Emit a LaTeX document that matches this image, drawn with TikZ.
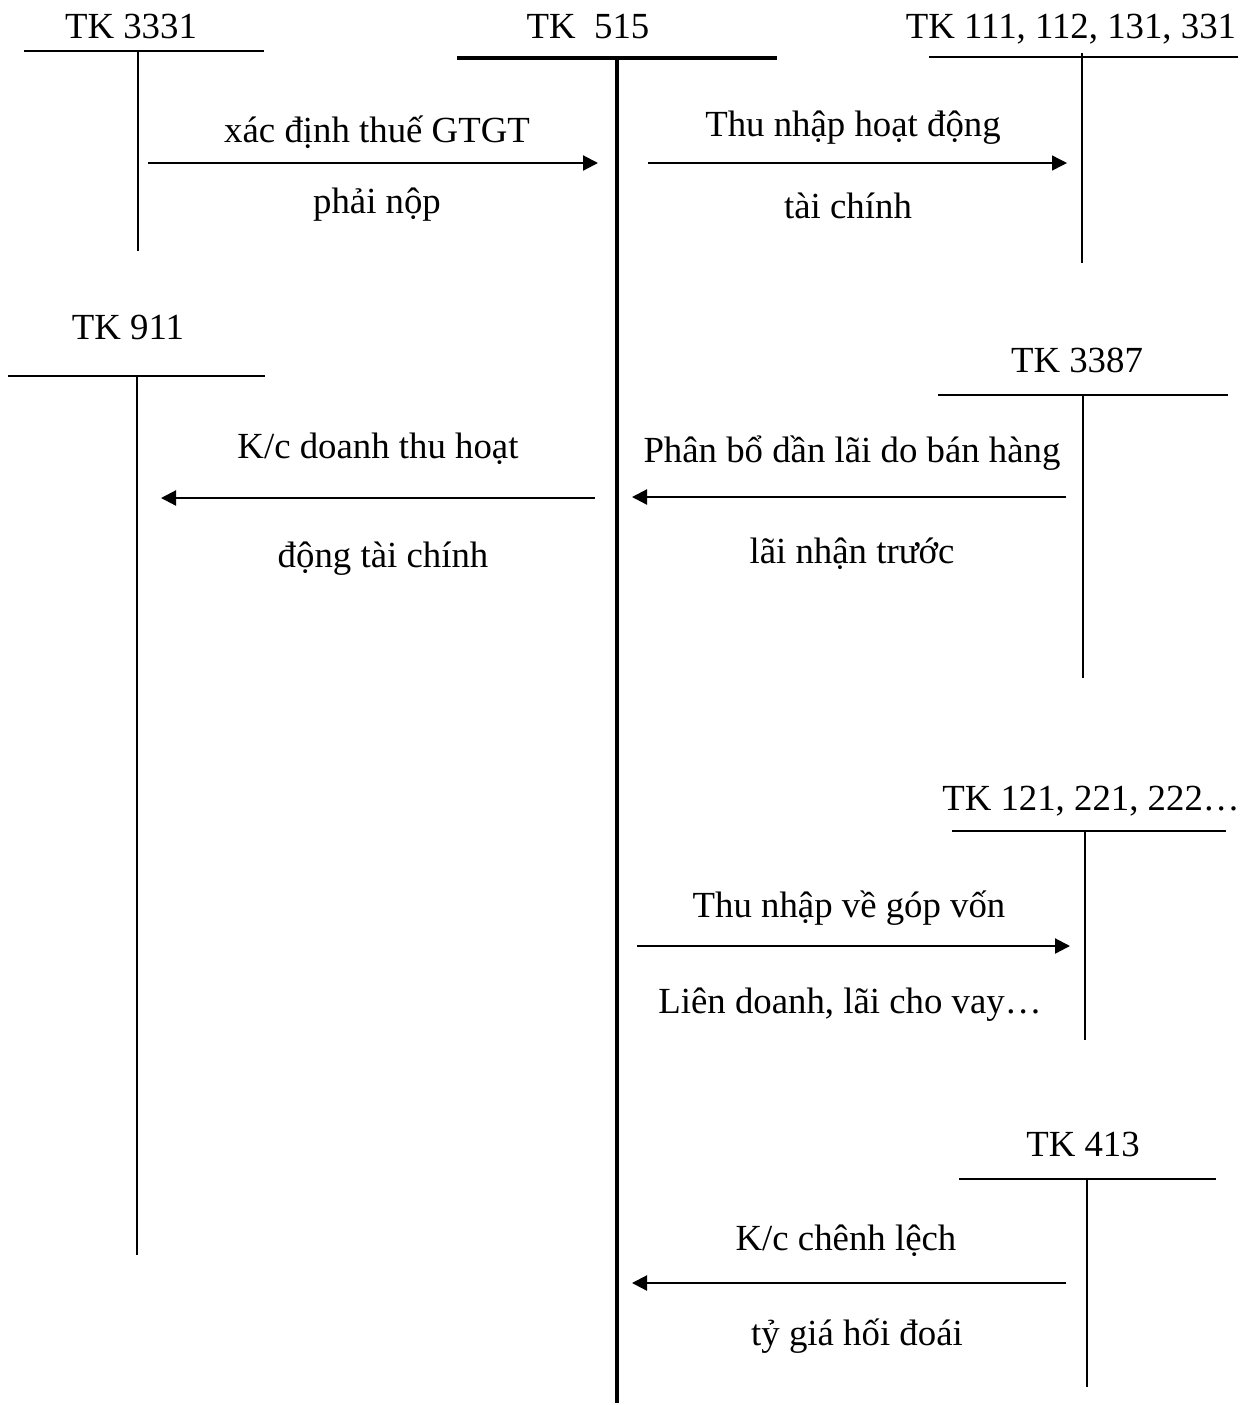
\documentclass[tikz,border=0pt]{standalone}
\usepackage{fontspec}
\setmainfont{Liberation Serif}
\usetikzlibrary{arrows.meta}
\begin{document}
\begin{tikzpicture}[x=0.5pt,y=-0.5pt,
  lbl/.style={anchor=base,inner sep=0pt,font=\fontsize{18.4pt}{22pt}\selectfont},
  tline/.style={line width=0.65pt},
  mainh/.style={line width=2pt},
  mainv/.style={line width=2pt},
  flow/.style={line width=1.1pt,-{Triangle[length=7.5pt,width=7.5pt]}},
  flowthin/.style={line width=0.7pt,-{Triangle[length=7.5pt,width=7.5pt]}}]
\useasboundingbox (0,0) rectangle (1256,1405);

% TK 515 (main)
\node[lbl] (t515) at (588,38) {TK\ \ 515};
\draw[mainh] (457,58) -- (777,58);
\coordinate (m0) at (617,58);
\coordinate (m1) at (617,1403);
\draw[mainv] (m0) -- (m1);

% TK 3331
\node[lbl] (t3331) at (131,38) {TK 3331};
\draw[tline] (24,51) -- (264,51);
\coordinate (a0) at (138,51);
\coordinate (a1) at (138,251);
\draw[tline] (a0) -- (a1);

% TK 111...
\node[lbl] (t111) at (1071,38) {TK 111, 112, 131, 331};
\draw[tline] (929,57) -- (1238,57);
\coordinate (b0) at (1082,53);
\coordinate (b1) at (1082,263);
\draw[tline] (b0) -- (b1);

% TK 911
\node[lbl] (t911) at (128,339) {TK 911};
\draw[tline] (8,376) -- (265,376);
\coordinate (c0) at (137,376);
\coordinate (c1) at (137,1255);
\draw[tline] (c0) -- (c1);

% TK 3387
\node[lbl] (t3387) at (1077,372) {TK 3387};
\draw[tline] (938,395) -- (1228,395);
\coordinate (d0) at (1083,395);
\coordinate (d1) at (1083,678);
\draw[tline] (d0) -- (d1);

% TK 121...
\node[lbl] (t121) at (1091,810) {TK 121, 221, 222\ldots};
\draw[tline] (952,831) -- (1226,831);
\coordinate (e0) at (1085,831);
\coordinate (e1) at (1085,1040);
\draw[tline] (e0) -- (e1);

% TK 413
\node[lbl] (t413) at (1083,1156) {TK 413};
\draw[tline] (959,1179) -- (1216,1179);
\coordinate (f0) at (1087,1179);
\coordinate (f1) at (1087,1387);
\draw[tline] (f0) -- (f1);

% Arrow 1: 3331 -> 515
\coordinate (r1s) at (148,163);
\coordinate (r1e) at (598,163);
\draw[flow] (r1s) -- (r1e);
\node[lbl] (l1a) at (377,142) {xác định thuế GTGT};
\node[lbl] (l1b) at (377,213) {phải nộp};

% Arrow 2: 515 -> 111
\coordinate (r2s) at (648,163);
\coordinate (r2e) at (1067,163);
\draw[flowthin] (r2s) -- (r2e);
\node[lbl] (l2a) at (853,136) {Thu nhập hoạt động};
\node[lbl] (l2b) at (848,218) {tài chính};

% Arrow 3: 515 -> 911
\coordinate (r3s) at (595,498);
\coordinate (r3e) at (161,498);
\draw[flow] (r3s) -- (r3e);
\node[lbl] (l3a) at (378,458) {K/c doanh thu hoạt};
\node[lbl] (l3b) at (383,567) {động tài chính};

% Arrow 4: 3387 -> 515
\coordinate (r4s) at (1066,497);
\coordinate (r4e) at (632,497);
\draw[flow] (r4s) -- (r4e);
\node[lbl] (l4a) at (852,462) {Phân bổ dần lãi do bán hàng};
\node[lbl] (l4b) at (852,563) {lãi nhận trước};

% Arrow 5: 515 -> 121
\coordinate (r5s) at (637,946);
\coordinate (r5e) at (1070,946);
\draw[flow] (r5s) -- (r5e);
\node[lbl] (l5a) at (849,917) {Thu nhập về góp vốn};
\node[lbl] (l5b) at (850,1013) {Liên doanh, lãi cho vay\ldots};

% Arrow 6: 413 -> 515
\coordinate (r6s) at (1066,1283);
\coordinate (r6e) at (632,1283);
\draw[flow] (r6s) -- (r6e);
\node[lbl] (l6a) at (846,1250) {K/c chênh lệch};
\node[lbl] (l6b) at (857,1345) {tỷ giá hối đoái};
\end{tikzpicture}
\end{document}
